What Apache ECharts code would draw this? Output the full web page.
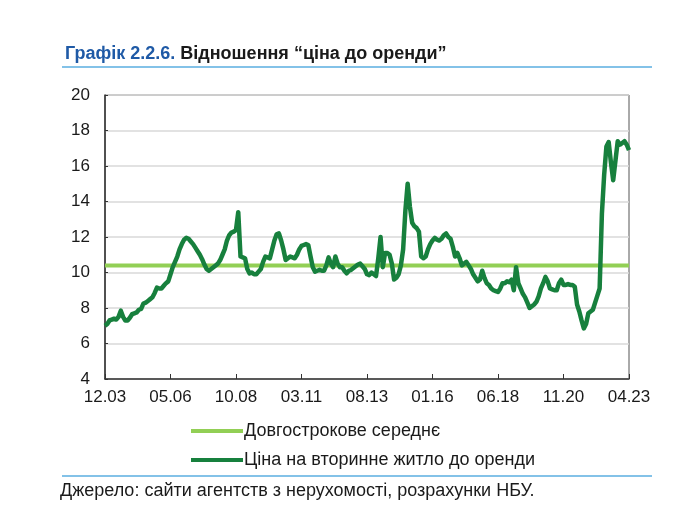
<!DOCTYPE html>
<html>
<head>
<meta charset="utf-8">
<script src="https://cdn.jsdelivr.net/npm/echarts@6/dist/echarts.min.js"></script>
<style>
  html, body { margin: 0; padding: 0; background: #fff; }
  #chart { width: 675px; height: 525px; }
</style>
</head>
<body>
<div id="chart"></div>
<script>
// monthly, 12.2003 .. 04.2023
var startYear = 2003, startMonth = 12, monthCount = 233;
var months = [];
for (var k = 0; k < monthCount; k++) {
    var m = (startMonth - 1 + k) % 12 + 1;
    var y = startYear + Math.floor((startMonth - 1 + k) / 12);
    months.push((m < 10 ? '0' + m : '' + m) + '.' + String(y).slice(2));
}

var yTicks = [4, 6, 8, 10, 12, 14, 16, 18, 20];

// price of secondary housing to rent
var priceToRent = [
    7.0, 7.1, 7.3, 7.35, 7.4, 7.35, 7.5, 7.85, 7.5, 7.3, 7.3, 7.45,
    7.65, 7.7, 7.75, 7.9, 7.95, 8.25, 8.3, 8.4, 8.5, 8.6, 8.85, 9.15,
    9.1, 9.1, 9.25, 9.4, 9.5, 9.9, 10.3, 10.6, 10.9, 11.3, 11.6, 11.85,
    11.95, 11.9, 11.75, 11.6, 11.4, 11.2, 11.0, 10.75, 10.45, 10.2, 10.1, 10.2,
    10.3, 10.4, 10.5, 10.7, 11.0, 11.3, 11.8, 12.1, 12.25, 12.3, 12.4, 13.4,
    10.9, 10.85, 10.8, 10.2, 9.95, 10.0, 9.9, 9.9, 10.05, 10.2, 10.6, 10.9,
    10.85, 10.8, 11.3, 11.8, 12.15, 12.2, 11.8, 11.3, 10.7, 10.8, 10.9, 10.85,
    10.8, 11.0, 11.3, 11.5, 11.55, 11.6, 11.55, 10.9, 10.3, 10.05, 10.1, 10.15,
    10.1, 10.1, 10.4, 10.85, 10.5, 10.3, 10.9, 10.5, 10.3, 10.3, 10.1, 9.95,
    10.1, 10.15, 10.25, 10.35, 10.45, 10.5, 10.35, 10.2, 9.9, 9.85, 10.0, 9.9,
    9.8, 10.8, 12.0, 10.3, 11.1, 11.1, 11.0, 10.5, 9.6, 9.7, 9.9, 10.4,
    11.3, 13.5, 15.0, 13.7, 12.8, 12.6, 12.5, 12.3, 10.9, 10.8, 10.9, 11.3,
    11.6, 11.8, 11.95, 11.85, 11.8, 11.9, 12.1, 12.2, 12.0, 11.9, 11.45, 10.9,
    11.1, 10.8, 10.4, 10.5, 10.6, 10.4, 10.2, 9.9, 9.7, 9.5, 9.6, 10.1,
    9.7, 9.4, 9.3, 9.1, 9.0, 8.95, 8.9, 9.1, 9.4, 9.4, 9.5, 9.45,
    9.6, 9.0, 10.3, 9.4, 9.1, 8.8, 8.6, 8.3, 8.0, 8.1, 8.2, 8.35,
    8.65, 9.1, 9.4, 9.75, 9.5, 9.1, 9.05, 9.0, 9.0, 9.4, 9.6, 9.3,
    9.3, 9.35, 9.3, 9.3, 9.2, 8.2, 7.8, 7.3, 6.85, 7.1, 7.7, 7.8,
    7.9, 8.3, 8.7, 9.1, 13.3, 15.5, 17.1, 17.35, 16.2, 15.2, 16.3, 17.4,
    17.2, 17.3, 17.4, 17.2, 16.9
];

var longTermAverage = 10.4;

var seriesNames = ['Довгострокове середнє', 'Ціна на вторинне житло до оренди'];

var font = '"Liberation Sans", Arial, sans-serif';
var chart = echarts.init(document.getElementById('chart'));

chart.setOption({
    animation: false,
    backgroundColor: '#fff',
    textStyle: { fontFamily: font },
    title: {
        left: 60,
        top: 40,
        text: '{a|Графік 2.2.6.} {b|Відношення “ціна до оренди”}',
        textStyle: {
            rich: {
                a: { fontFamily: font, fontSize: 18, fontWeight: 'bold', color: '#1f5aa6' },
                b: { fontFamily: font, fontSize: 18, fontWeight: 'bold', color: '#1a1a1a' }
            }
        }
    },
    graphic: [
        { type: 'line', shape: { x1: 62, y1: 67, x2: 652, y2: 67 }, style: { stroke: '#5aaee0', lineWidth: 1.5 } },
        { type: 'line', shape: { x1: 62, y1: 476, x2: 652, y2: 476 }, style: { stroke: '#5aaee0', lineWidth: 1.5 } },
        {
            type: 'text', left: 60, top: 482,
            style: { text: 'Джерело: сайти агентств з нерухомості, розрахунки НБУ.', font: '18px ' + font, fill: '#1a1a1a' }
        }
    ],
    legend: {
        orient: 'vertical',
        left: 186,
        top: 417,
        itemWidth: 52,
        itemHeight: 4,
        itemGap: 11,
        icon: 'rect',
        data: seriesNames,
        textStyle: { fontFamily: font, fontSize: 18, color: '#1a1a1a', padding: [0, 0, 0, -4] }
    },
    grid: {
        left: 105, right: 46, top: 95, bottom: 146,
        show: true, borderColor: '#555', borderWidth: 1
    },
    xAxis: {
        type: 'category',
        data: months,
        boundaryGap: false,
        axisLine: { lineStyle: { color: '#333', width: 1.5 } },
        axisTick: { inside: true, length: 5, interval: 28, lineStyle: { color: '#333' } },
        axisLabel: { interval: 28, margin: 10, fontSize: 17, color: '#1a1a1a', fontFamily: font },
        splitLine: { show: false }
    },
    yAxis: {
        type: 'value',
        min: yTicks[0],
        max: yTicks[yTicks.length - 1],
        interval: 2,
        axisLine: { show: true, lineStyle: { color: '#333', width: 1.5 } },
        axisTick: { show: true, inside: true, length: 3, lineStyle: { color: '#333' } },
        axisLabel: { margin: 15, fontSize: 17, color: '#1a1a1a', fontFamily: font },
        splitLine: { lineStyle: { color: '#d9d9d9', width: 1.5 } }
    },
    series: [
        {
            name: seriesNames[0],
            type: 'line',
            data: months.map(function () { return longTermAverage; }),
            showSymbol: false,
            lineStyle: { color: '#92cf55', width: 4 },
            itemStyle: { color: '#92cf55' },
            z: 2
        },
        {
            name: seriesNames[1],
            type: 'line',
            data: priceToRent,
            showSymbol: false,
            lineStyle: { color: '#17803d', width: 4.5, join: 'round' },
            itemStyle: { color: '#17803d' },
            z: 3
        }
    ]
});
</script>
</body>
</html>
